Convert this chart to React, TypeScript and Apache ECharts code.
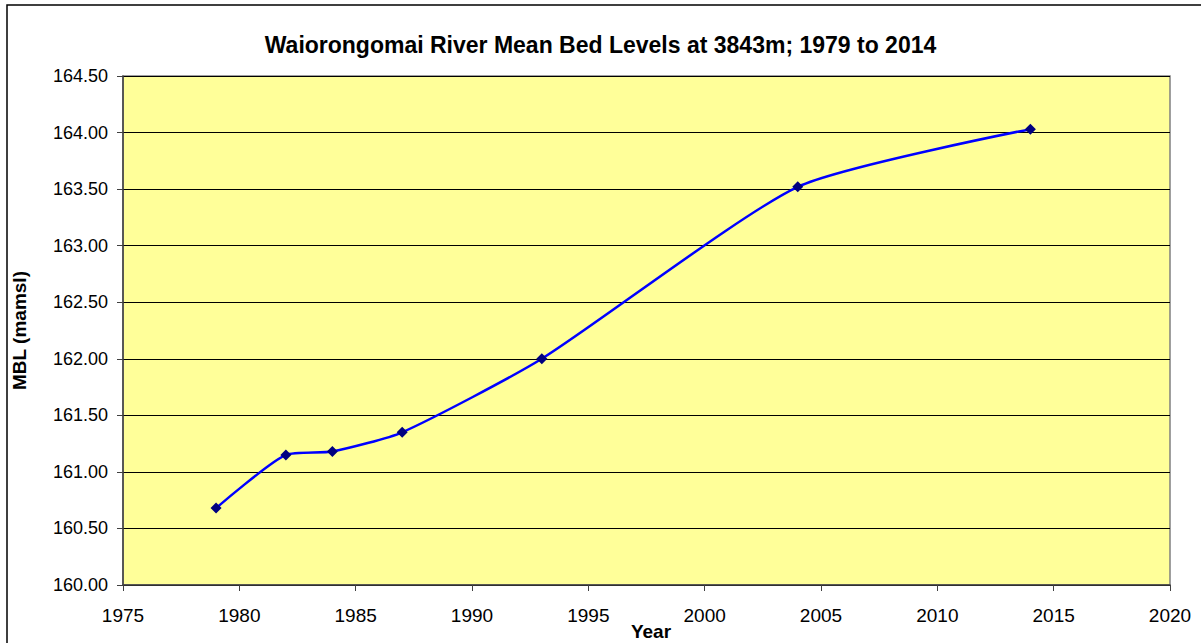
import React, { useEffect, useRef } from "react";
import * as echarts from "echarts";

const years = [1979, 1982, 1984, 1987, 1993, 2004, 2014];
const bedLevels = [160.68, 161.15, 161.18, 161.35, 162.0, 163.52, 164.03];
const titleText = "Waiorongomai River Mean Bed Levels at 3843m; 1979 to 2014";
const xName = "Year";
const yName = "MBL (mamsl)";

export default function App() {
  const ref = useRef<HTMLDivElement>(null);
  useEffect(() => {
    document.body.style.margin = "0";
    const chart = echarts.init(ref.current!, null, { renderer: "svg" });
    const font = "Liberation Sans, Arial, sans-serif";
    chart.setOption({
      animation: false,
      backgroundColor: "#ffffff",
      title: {
        text: titleText,
        left: "center",
        top: 28,
        textStyle: { fontFamily: font, fontWeight: "bold", fontSize: 23, color: "#000" },
      },
      graphic: [
        {
          type: "rect",
          shape: { x: 7, y: 5, width: 1250, height: 700 },
          style: { fill: "none", stroke: "#000", lineWidth: 1.5 },
          silent: true,
        },
        {
          type: "text",
          x: 651,
          y: 631,
          silent: true,
          style: {
            text: xName,
            fontFamily: font,
            fontWeight: "bold",
            fontSize: 19,
            fill: "#000",
            align: "center",
            verticalAlign: "middle",
          },
        },
      ],
      grid: {
        left: 123,
        top: 76,
        right: 31,
        bottom: 58,
        outerBoundsMode: "none",
        containLabel: false,
        show: true,
        backgroundColor: "#FFFF99",
        borderColor: "#808080",
        borderWidth: 1.5,
      },
      xAxis: {
        type: "value",
        min: 1975,
        max: 2020,
        interval: 5,
        axisLine: { show: true, onZero: false, lineStyle: { color: "#404040", width: 1.5 } },
        axisTick: { show: true, inside: false, length: 6, lineStyle: { color: "#404040" } },
        axisLabel: {
          fontFamily: font,
          fontSize: 19,
          color: "#000",
          margin: 21,
          formatter: (v: number) => String(v),
        },
        splitLine: { show: false },
      },
      yAxis: {
        type: "value",
        min: 160,
        max: 164.5,
        interval: 0.5,
        name: yName,
        nameLocation: "middle",
        nameRotate: 90,
        nameGap: 94,
        nameTextStyle: { fontFamily: font, fontWeight: "bold", fontSize: 19, color: "#000" },
        axisLine: { show: true, lineStyle: { color: "#404040", width: 1.5 } },
        axisTick: { show: true, inside: false, length: 6, lineStyle: { color: "#404040" } },
        axisLabel: {
          fontFamily: font,
          fontSize: 18,
          color: "#000",
          margin: 15,
          formatter: (v: number) => v.toFixed(2),
        },
        splitLine: { show: true, lineStyle: { color: "#000", width: 1 } },
      },
      series: [
        {
          type: "line",
          data: years.map((y, i) => [y, bedLevels[i]]),
          smooth: 0.2,
          symbol: "diamond",
          symbolSize: 11,
          itemStyle: { color: "#000080" },
          lineStyle: { color: "#0000FF", width: 2.5 },
        },
      ],
    });
    return () => chart.dispose();
  }, []);
  return <div ref={ref} style={{ width: 1201, height: 643 }} />;
}
